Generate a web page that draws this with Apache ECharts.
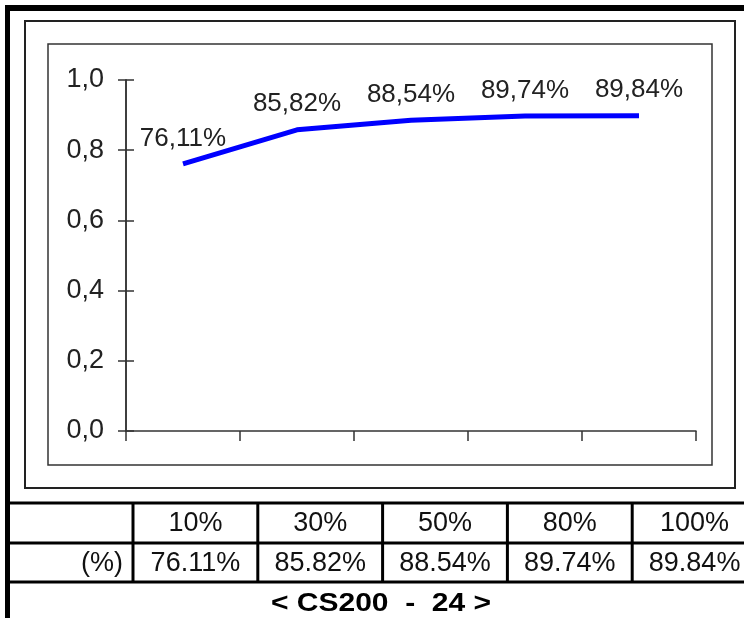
<!DOCTYPE html>
<html>
<head>
<meta charset="utf-8">
<script src="https://cdn.jsdelivr.net/npm/echarts@6/dist/echarts.min.js"></script>
<style>
html,body{margin:0;padding:0;background:#fff;}
#c{width:744px;height:618px;}
</style>
</head>
<body>
<div id="c"></div>
<script>
// ---- data ----
var categories = ['10%', '30%', '50%', '80%', '100%'];
var values = [0.7611, 0.8582, 0.8854, 0.8974, 0.8984];
var rowLabel = '(%)';
var yTicks = [0.0, 0.2, 0.4, 0.6, 0.8, 1.0];
var caption = '< CS200  -  24 >';

// ---- layout constants ----
var W = 744, H = 618;
var FONT = 'Liberation Sans, Arial, sans-serif';
var gridLeft = 126, gridRight = 48;
var tableTop = 503, tableMid = 543, tableBot = 582;
var firstColRight = 133, colW = 124.8;

function commaPct(v) { return (v * 100).toFixed(2).replace('.', ',') + '%'; }
function dotPct(v) { return (v * 100).toFixed(2) + '%'; }

var graphics = [];
// thick outer border (top and left)
graphics.push({ type: 'rect', shape: { x: 5, y: 5, width: W - 5, height: 6 }, style: { fill: '#000' } });
graphics.push({ type: 'rect', shape: { x: 5, y: 5, width: 5, height: H - 5 }, style: { fill: '#000' } });
// chart area frame
graphics.push({ type: 'rect', z: -1, shape: { x: 25, y: 21, width: 710, height: 467 }, style: { fill: '#fff', stroke: '#222', lineWidth: 2 } });
// plot area frame
graphics.push({ type: 'rect', z: -1, shape: { x: 48, y: 44, width: 664, height: 421 }, style: { fill: '#fff', stroke: '#333', lineWidth: 1.5 } });
// table lines
[tableTop, tableMid, tableBot].forEach(function (y) {
  graphics.push({ type: 'line', shape: { x1: 10, y1: y, x2: W, y2: y }, style: { stroke: '#000', lineWidth: 3 } });
});
for (var i = 0; i < categories.length; i++) {
  var x = firstColRight + i * colW;
  graphics.push({ type: 'line', shape: { x1: x, y1: tableTop, x2: x, y2: tableBot }, style: { stroke: '#000', lineWidth: 3 } });
}
// table text
graphics.push({ type: 'text', style: { text: rowLabel, x: firstColRight - 10, y: (tableMid + tableBot) / 2 + 1, align: 'right', verticalAlign: 'middle', font: '27px ' + FONT, fill: '#111' } });
categories.forEach(function (c, i) {
  var cx = firstColRight + i * colW + colW / 2;
  graphics.push({ type: 'text', style: { text: c, x: cx, y: (tableTop + tableMid) / 2 + 1, align: 'center', verticalAlign: 'middle', font: '27px ' + FONT, fill: '#111' } });
  graphics.push({ type: 'text', style: { text: dotPct(values[i]), x: cx, y: (tableMid + tableBot) / 2 + 1, align: 'center', verticalAlign: 'middle', font: '27px ' + FONT, fill: '#111' } });
});
// caption (wide bold face)
graphics.push({ type: 'text', x: 381, y: 604, scaleX: 1.2, style: { text: caption, x: 0, y: 0, align: 'center', verticalAlign: 'middle', font: 'bold 25px ' + FONT, fill: '#000' } });

var chart = echarts.init(document.getElementById('c'), null, { renderer: 'canvas' });
chart.setOption({
  animation: false,
  backgroundColor: '#fff',
  graphic: { elements: graphics },
  grid: { left: gridLeft, right: gridRight, top: 80, bottom: 187, containLabel: false },
  xAxis: {
    type: 'category',
    data: categories,
    boundaryGap: true,
    axisLine: { lineStyle: { color: '#333', width: 1.5 } },
    axisTick: { show: true, length: 10, lineStyle: { color: '#333', width: 1.5 } },
    axisLabel: { show: false },
    splitLine: { show: false }
  },
  yAxis: [{
    type: 'value',
    min: 0, max: 1, interval: 0.2,
    axisLine: { show: true, lineStyle: { color: '#333', width: 1.5 } },
    axisTick: { show: true, length: 8, lineStyle: { color: '#333', width: 1.5 } },
    axisLabel: {
      margin: 22, color: '#222', fontFamily: FONT, fontSize: 27,
      formatter: function (v) { return v.toFixed(1).replace('.', ','); }
    },
    splitLine: { show: false }
  }, {
    // mirror axis placed on the left edge so the y ticks cross the axis line
    type: 'value',
    position: 'right',
    offset: -(W - gridLeft - gridRight),
    min: 0, max: 1, interval: 0.2,
    axisLine: { show: true, lineStyle: { color: '#333', width: 1.5 } },
    axisTick: { show: true, length: 8, lineStyle: { color: '#333', width: 1.5 } },
    axisLabel: { show: false },
    splitLine: { show: false }
  }],
  series: [{
    type: 'line',
    data: values,
    yAxisIndex: 0,
    z: 5,
    symbol: 'circle',
    symbolSize: 1,
    showSymbol: true,
    itemStyle: { color: 'rgba(0,0,255,0)', opacity: 1 },
    lineStyle: { color: '#0000ff', width: 5 },
    label: {
      show: true, position: 'top', distance: 12,
      color: '#222', fontFamily: FONT, fontSize: 26,
      formatter: function (p) { return commaPct(p.value); }
    },
    labelLayout: { hideOverlap: false }
  }]
});
</script>
</body>
</html>
